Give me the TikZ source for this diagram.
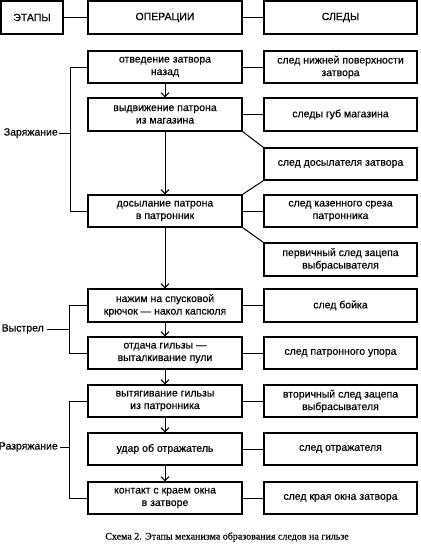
\documentclass[tikz,border=0pt]{standalone}
\usepackage{fontspec}
\setmainfont{Liberation Sans}
\newfontfamily\boxfont{Liberation Sans}[FakeBold=0.4]
\newfontfamily\capfont{Liberation Serif}[FakeBold=0.3]
\usetikzlibrary{arrows.meta}
\begin{document}
\begin{tikzpicture}[x=1pt,y=-1pt,
  box/.style={draw,line width=1.2pt,minimum height=32pt,inner sep=0pt,align=center,
    font=\boxfont\fontsize{10.5}{12.5}\selectfont},
  lbox/.style={box,minimum width=154pt},
  rbox/.style={box,minimum width=153pt},
  conn/.style={line width=1pt},
  arr/.style={conn,-{Straight Barb[length=4pt,width=8pt]}},
  stage/.style={anchor=east,inner sep=0pt,font=\boxfont\fontsize{10.5}{12.5}\selectfont}]
\useasboundingbox[fill=white] (0,0) rectangle (420,551);
% header
\node[box,minimum width=62pt,minimum height=33pt] (etapy) at (32,17.5) {ЭТАПЫ};
\node[lbox,minimum height=33pt] (oper) at (165,17.5) {ОПЕРАЦИИ};
\node[rbox,minimum height=33pt] (sledy) at (340.5,17.5) {СЛЕДЫ};
% operations
\node[lbox] (op1) at (165,67) {отведение затвора\\назад};
\node[lbox,minimum height=33pt] (op2) at (165,114.5) {выдвижение патрона\\из магазина};
\node[lbox] (op3) at (165,211) {досылание патрона\\в патронник};
\node[lbox,minimum height=33pt] (op4) at (165,305.5) {нажим на спусковой\\крючок — накол капсюля};
\node[lbox] (op5) at (165,353) {отдача гильзы —\\выталкивание пули};
\node[lbox] (op6) at (165,401) {вытягивание гильзы\\из патронника};
\node[lbox] (op7) at (165,449) {удар об отражатель};
\node[lbox] (op8) at (165,498) {контакт с краем окна\\в затворе};
% traces
\node[rbox] (tr1) at (340.5,67) {след нижней поверхности\\затвора};
\node[rbox,minimum height=33pt] (tr2) at (340.5,114.5) {следы губ магазина};
\node[rbox] (dos) at (340.5,164) {след досылателя затвора};
\node[rbox] (tr3) at (340.5,211) {след казенного среза\\патронника};
\node[rbox,minimum height=33pt] (perv) at (340.5,259.5) {первичный след зацепа\\выбрасывателя};
\node[rbox,minimum height=33pt] (tr4) at (340.5,305.5) {след бойка};
\node[rbox] (tr5) at (340.5,353) {след патронного упора};
\node[rbox] (tr6) at (340.5,401) {вторичный след зацепа\\выбрасывателя};
\node[rbox] (tr7) at (340.5,449) {след отражателя};
\node[rbox] (tr8) at (340.5,498) {след края окна затвора};
% stage labels
\node[stage] (zar) at (58,133) {Заряжание};
\node[stage] (vys) at (44,329) {Выстрел};
\node[stage] (raz) at (58,447) {Разряжание};
% header connectors
\draw[conn] (etapy) -- (oper);
\draw[conn] (oper) -- (sledy);
% horizontal connectors
\foreach \i in {1,...,8} {\draw[conn] (op\i) -- (tr\i);}
% diagonals
\draw[conn] (op2.south east) -- (dos.north west);
\draw[conn] (dos.south west) -- (op3.north east);
\draw[conn] (op3.south east) -- (perv.north west);
% arrows
\foreach \i/\j in {1/2,2/3,3/4,4/5,5/6,6/7,7/8} {\draw[arr] (op\i) -- (op\j);}
% brackets
\coordinate (zb) at (71,133);
\draw[conn] (op1.west) -- ++(-17,0) |- (op3.west);
\draw[conn] (zar.east) ++(1,0) -- (zb);
\coordinate (vb) at (70,329);
\draw[conn] (op4.west) -- ++(-18,0) |- (op5.west);
\draw[conn] (vys.east) ++(3,0) -- (vb);
\coordinate (rb) at (70,447);
\draw[conn] (op6.west) -- ++(-18,0) |- (op8.west);
\draw[conn] (raz.east) ++(2,0) -- (rb);
% caption
\node[font=\capfont\fontsize{10}{12}\selectfont,inner sep=0pt] (cap) at (227,537)
  {Схема 2. Этапы механизма образования следов на гильзе};
\end{tikzpicture}
\end{document}
